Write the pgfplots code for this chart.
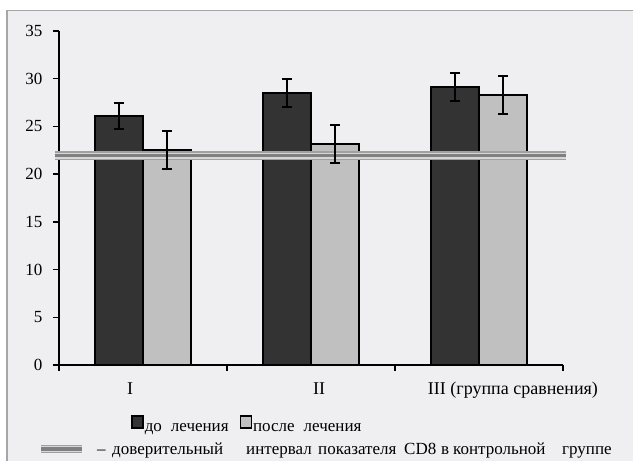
\documentclass[border=0pt]{standalone}
\usepackage{pgfplots}
\pgfplotsset{compat=1.18}
\usepackage{fontspec}
\setmainfont{Liberation Serif}
\definecolor{bg}{RGB}{239,239,241}
\definecolor{framec}{RGB}{166,166,166}
\definecolor{darkbar}{RGB}{51,51,51}
\definecolor{lightbar}{RGB}{192,192,192}
\definecolor{lineA}{RGB}{160,160,160}
\definecolor{lineB}{RGB}{128,128,128}
\definecolor{gapc}{RGB}{215,215,215}
\begin{document}
\begin{tikzpicture}
\useasboundingbox (0pt,0pt) rectangle (633pt,461pt);
\fill[bg] (7pt,-20pt) rectangle (660pt,450.5pt);
\draw[framec, line width=1.2pt] (7pt,-20pt) -- (7pt,450.5pt) -- (660pt,450.5pt);
\begin{axis}[
  at={(59pt,96pt)}, anchor=south west,
  scale only axis, width=504pt, height=334pt,
  xmin=-0.5, xmax=2.5, ymin=0, ymax=35,
  axis x line*=bottom, axis y line*=left,
  axis line style={line width=1.8pt, black},
  clip=false,
  ytick={0,5,...,35},
  xtick={-0.5,0.5,1.5,2.5}, xticklabels={},
  extra x ticks={-0.077,1.048,2.202},
  extra x tick labels={I,II,III (группа сравнения)},
  extra x tick style={major tick length=0pt},
  tick align=outside, major tick length=6pt,
  tick style={line width=1.5pt, black},
  every tick label/.append style={font=\fontsize{17}{20}\selectfont},
  /pgf/number format/assume math mode=true,
  xticklabel style={anchor=base, yshift=-30pt, font=\fontsize{18}{21}\selectfont},
  yticklabel style={xshift=-7pt},
  legend style={at={(0.143,-0.1797)}, anchor=west, draw=none, fill=none,
    legend columns=2, font=\fontsize{17}{20}\selectfont, inner sep=0pt,
    /tikz/every even column/.append style={column sep=10pt},
    nodes={inner xsep=1pt}},
]
\addplot[ybar, bar width=0.2857, bar shift=-0.14286, fill=darkbar, draw=black, line width=1.5pt,
  legend image code/.code={\draw[fill=darkbar, draw=black, line width=1.5pt] (0pt,0pt) rectangle (11pt,12pt);}]
  coordinates {(0,26.1) (1,28.5) (2,29.13)};
\addplot[ybar, bar width=0.2857, bar shift=0.14286, fill=lightbar, draw=black, line width=1.5pt,
  legend image code/.code={\draw[fill=lightbar, draw=black, line width=1.5pt] (0pt,0pt) rectangle (11pt,12pt);}]
  coordinates {(0,22.53) (1,23.16) (2,28.29)};
\legend{до\hspace{9pt}лечения, после\hspace{9pt}лечения}
% confidence interval band
\addplot[draw=none, fill=gapc, forget plot] coordinates {(-0.524,21.45) (2.518,21.45) (2.518,22.4) (-0.524,22.4)} -- cycle;
\addplot[lineA, line width=1.2pt, forget plot] coordinates {(-0.524,22.32) (2.518,22.32)};
\addplot[lineB, line width=3.2pt, forget plot] coordinates {(-0.524,21.93) (2.518,21.93)};
\addplot[lineA, line width=1.2pt, forget plot] coordinates {(-0.524,21.53) (2.518,21.53)};
% error bars on top (at bar centres)
\addplot[draw=none, mark=none, forget plot,
  error bars/.cd, y dir=both, y explicit,
  error bar style={draw=black, solid, line width=2pt},
  error mark options={rotate=90, draw=black, solid, line width=2pt, mark size=5pt}]
  coordinates {(-0.14286,26.1) +- (0,1.36) (0.85714,28.5) +- (0,1.47) (1.85714,29.13) +- (0,1.47)};
\addplot[draw=none, mark=none, forget plot,
  error bars/.cd, y dir=both, y explicit,
  error bar style={draw=black, solid, line width=2pt},
  error mark options={rotate=90, draw=black, solid, line width=2pt, mark size=5pt}]
  coordinates {(0.14286,22.53) +- (0,2.0) (1.14286,23.16) +- (0,2.0) (2.14286,28.29) +- (0,2.0)};
\end{axis}
% second legend line
\fill[gapc] (41pt,7.5pt) rectangle (82pt,16pt);
\draw[lineA, line width=1.2pt] (41pt,15.5pt) -- (82pt,15.5pt);
\draw[lineB, line width=3.2pt] (41pt,12pt) -- (82pt,12pt);
\draw[lineA, line width=1.2pt] (41pt,8.5pt) -- (82pt,8.5pt);
\begin{scope}[every node/.style={anchor=base west, inner sep=0pt, font=\fontsize{17}{20}\selectfont}]
\node at (97pt,6pt) {–};
\node at (112pt,6pt) {доверительный};
\node at (246pt,6pt) {интервал};
\node at (318pt,6pt) {показателя};
\node at (404pt,6pt) {CD8};
\node at (441pt,6pt) {в};
\node at (453pt,6pt) {контрольной};
\node at (562pt,6pt) {группе};
\end{scope}
\end{tikzpicture}
\end{document}
